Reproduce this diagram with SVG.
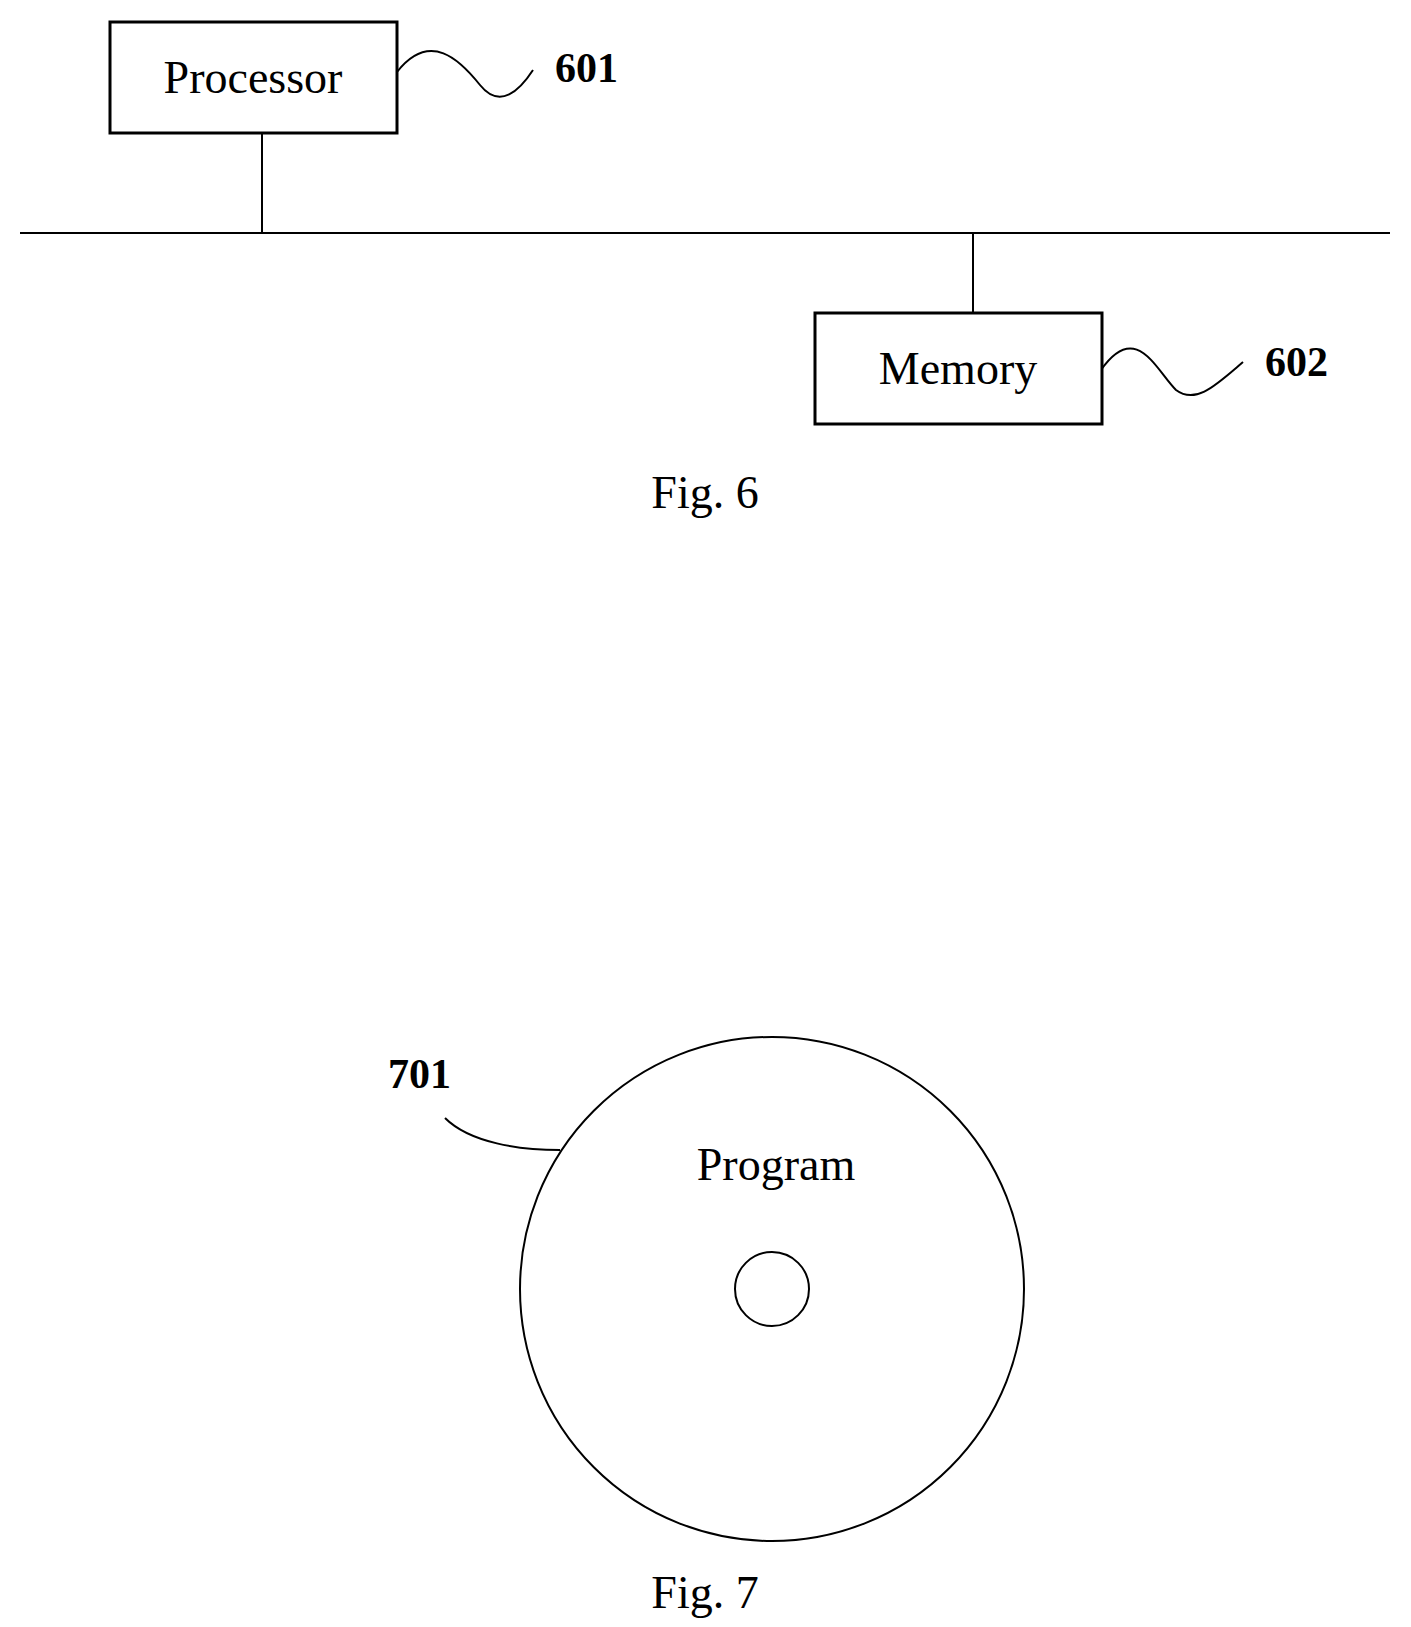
<svg xmlns="http://www.w3.org/2000/svg" width="1411" height="1627" viewBox="0 0 1411 1627">
<style>
.b{fill:#fff;stroke:#000;stroke-width:3}
.l{fill:none;stroke:#000;stroke-width:2}
.t{font-family:"Liberation Serif",serif;font-size:46px;fill:#000}
.n{font-family:"Liberation Serif",serif;font-size:42px;font-weight:bold;fill:#000}
</style>
<rect width="1411" height="1627" fill="#fff"/>
<g id="connectors">
<line class="l" x1="20" y1="233" x2="1390" y2="233" stroke-width="3"/>
<line class="l" x1="262" y1="133" x2="262" y2="233"/>
<line class="l" x1="973" y1="233" x2="973" y2="313"/>
<path class="l" d="M397 72 C430 30 460 60 480 85 C500 110 520 90 533 70"/>
<path class="l" d="M1101 370 C1136 320 1156 370 1176 390 C1196 405 1216 385 1243 362"/>
<path class="l" d="M445 1118 C470 1143 520 1150 560 1150"/>
</g>
<g id="processor"><rect class="b" x="110" y="22" width="287" height="111"/><text class="t" x="253" y="93" text-anchor="middle">Processor</text></g>
<text class="n" x="555" y="82">601</text>
<g id="memory"><rect class="b" x="815" y="313" width="287" height="111"/><text class="t" x="958" y="384" text-anchor="middle">Memory</text></g>
<text class="n" x="1265" y="376">602</text>
<text class="t" x="705" y="508" text-anchor="middle">Fig. 6</text>
<g id="disc"><circle class="l" cx="772" cy="1289" r="252"/><circle class="l" cx="772" cy="1289" r="37"/><text class="t" x="776" y="1180" text-anchor="middle">Program</text></g>
<text class="n" x="388" y="1088">701</text>
<text class="t" x="705" y="1608" text-anchor="middle">Fig. 7</text>
</svg>
